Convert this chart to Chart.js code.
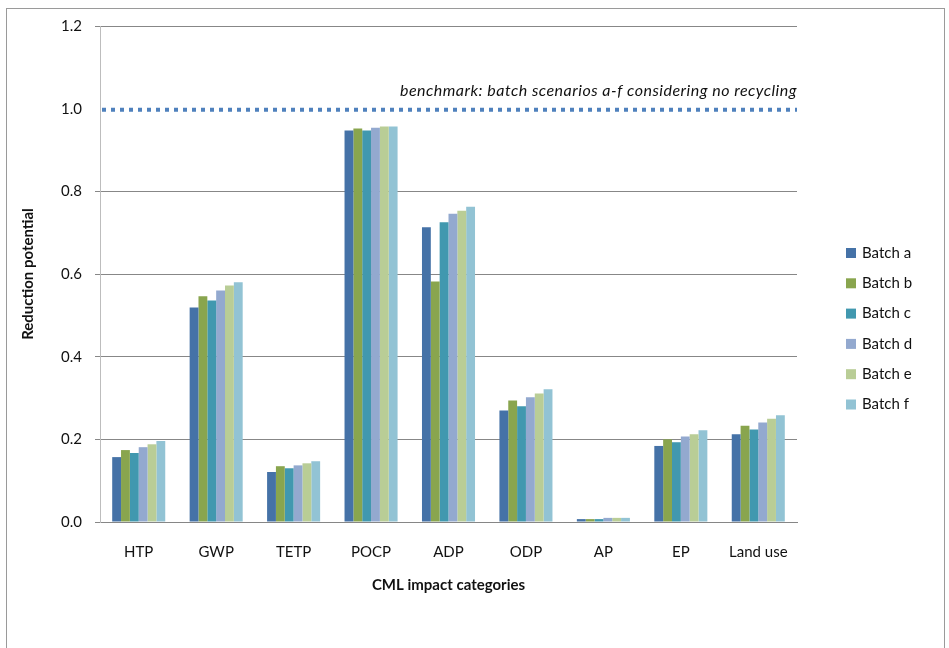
<!DOCTYPE html>
<html>
<head>
<meta charset="utf-8">
<script src="https://cdn.jsdelivr.net/npm/chart.js@4/dist/chart.umd.min.js"></script>
<style>
  body { margin: 0; background: #fff; }
  canvas { display: block; }
</style>
</head>
<body>
<canvas id="chart" width="949" height="648"></canvas>
<script>
// CML impact categories
const categories = ['HTP', 'GWP', 'TETP', 'POCP', 'ADP', 'ODP', 'AP', 'EP', 'Land use'];

// reduction potential per batch scenario
const batchA = [0.157, 0.519, 0.121, 0.947, 0.713, 0.270, 0.007, 0.184, 0.212];
const batchB = [0.174, 0.546, 0.135, 0.952, 0.582, 0.294, 0.007, 0.200, 0.233];
const batchC = [0.167, 0.536, 0.130, 0.947, 0.725, 0.280, 0.007, 0.193, 0.224];
const batchD = [0.181, 0.560, 0.137, 0.954, 0.746, 0.302, 0.010, 0.207, 0.241];
const batchE = [0.188, 0.572, 0.142, 0.957, 0.753, 0.311, 0.010, 0.212, 0.250];
const batchF = [0.196, 0.580, 0.147, 0.957, 0.763, 0.321, 0.010, 0.222, 0.258];

const seriesNames = ['Batch a', 'Batch b', 'Batch c', 'Batch d', 'Batch e', 'Batch f'];
const benchmarkValue = 1.0;
const benchmarkLabel = 'benchmark: batch scenarios a-f considering no recycling';

const colors = ['#4572A7', '#89A54E', '#4198AF', '#93A9CF', '#B9CD96', '#92C3D4'];
const FONT = 'Lato, "Open Sans", sans-serif';

// dotted benchmark line + its label, outer frame, legend on the right
const extras = {
    id: 'extras',
    beforeDraw(chart) {
        const ctx = chart.ctx;
        ctx.save();
        ctx.fillStyle = '#fff';
        ctx.fillRect(0, 0, chart.width, chart.height);
        ctx.strokeStyle = '#9a9a9a';
        ctx.lineWidth = 1;
        ctx.strokeRect(6.5, 8.5, 938, 700);
        ctx.restore();
    },
    afterDatasetsDraw(chart) {
        const ctx = chart.ctx;
        const area = chart.chartArea;
        const y = chart.scales.y.getPixelForValue(benchmarkValue) + 1;
        ctx.save();
        ctx.strokeStyle = '#4F81BD';
        ctx.lineWidth = 4;
        ctx.setLineDash([4, 5]);
        ctx.beginPath();
        ctx.moveTo(area.left + 2, y);
        ctx.lineTo(area.right, y);
        ctx.stroke();
        ctx.setLineDash([]);
        ctx.fillStyle = '#111';
        ctx.font = 'italic 16px ' + FONT;
        ctx.letterSpacing = '0.5px';
        ctx.textAlign = 'right';
        ctx.textBaseline = 'middle';
        ctx.fillText(benchmarkLabel, area.right, y - 19);
        ctx.letterSpacing = '0px';

        // legend
        ctx.textAlign = 'left';
        ctx.font = '15px ' + FONT;
        chart.data.datasets.forEach((ds, i) => {
            const cy = 253 + i * 30.3;
            ctx.fillStyle = ds.backgroundColor;
            ctx.fillRect(846, cy - 5, 10, 10);
            ctx.fillStyle = '#111';
            ctx.fillText(ds.label, 862, cy);
        });
        ctx.restore();
    }
};

const allSeries = [batchA, batchB, batchC, batchD, batchE, batchF];
// the 1.0 gridline sits under the benchmark line, so it is left out
const gridColor = c => (c.tick && Math.abs(c.tick.value - benchmarkValue) < 1e-9) ? 'rgba(0,0,0,0)' : '#878787';

new Chart(document.getElementById('chart'), {
    type: 'bar',
    data: {
        labels: categories,
        datasets: allSeries.map((values, i) => ({
            label: seriesNames[i],
            data: values,
            backgroundColor: colors[i],
            borderWidth: 0
        }))
    },
    options: {
        responsive: false,
        animation: false,
        layout: { padding: { left: 0, right: 152, top: 26, bottom: 54 } },
        datasets: { bar: { categoryPercentage: 0.685, barPercentage: 1 } },
        plugins: { legend: { display: false }, tooltip: { enabled: false } },
        scales: {
            x: {
                grid: { display: false },
                border: { display: true, color: '#868686' },
                ticks: { color: '#111', font: { family: FONT, size: 15 }, padding: 13, autoSkip: false, maxRotation: 0 },
                title: { display: true, text: 'CML impact categories', color: '#111', font: { family: FONT, size: 15, weight: 'bold' }, padding: { top: 0, bottom: 0 } },
                afterFit(scale) { scale.height = 72; }
            },
            y: {
                min: 0,
                max: 1.2,
                ticks: {
                    stepSize: 0.2,
                    color: '#111',
                    padding: 13,
                    font: { family: FONT, size: 15 },
                    callback: v => v.toFixed(1)
                },
                grid: { color: gridColor, tickColor: gridColor, tickLength: 5 },
                border: { color: '#BDBDBD' },
                title: { display: true, text: 'Reduction potential', color: '#111', font: { family: FONT, size: 15, weight: 'bold' }, padding: { top: 19, bottom: 0 } },
                afterFit(scale) { scale.width = 100; }
            }
        }
    },
    plugins: [extras]
});
</script>
</body>
</html>
